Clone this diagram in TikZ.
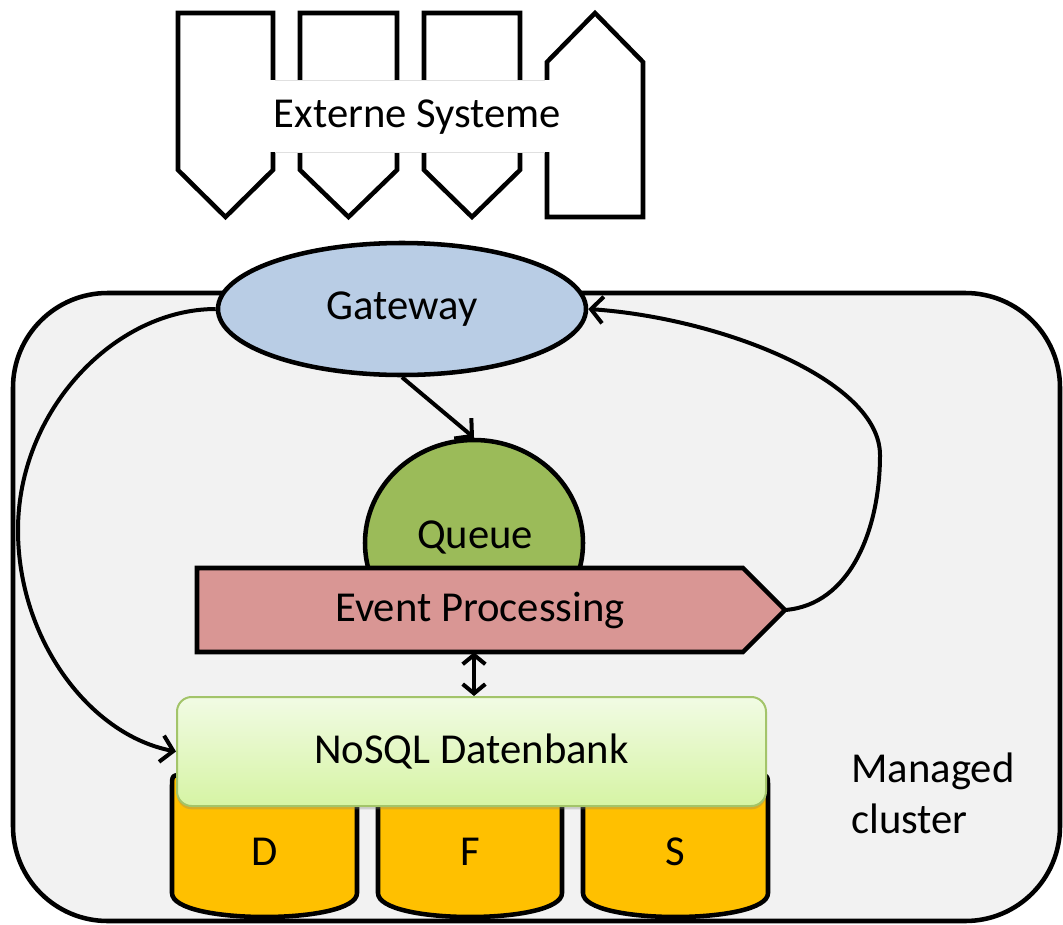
\documentclass[tikz,border=0pt]{standalone}
\usepackage{fontspec}
\setmainfont{Carlito}
\usetikzlibrary{arrows.meta,shadows,shapes.geometric}

\definecolor{clusterbg}{HTML}{F2F2F2}
\definecolor{gwfill}{HTML}{B9CDE5}
\definecolor{queuefill}{HTML}{9BBB59}
\definecolor{epfill}{HTML}{D99694}
\definecolor{cylfill}{HTML}{FFC000}
\definecolor{dbtop}{HTML}{F1FBE4}
\definecolor{dbbot}{HTML}{D6F4A4}
\definecolor{dbborder}{HTML}{A3C46A}

\tikzset{
  outline/.style={draw=black, line width=3.4pt},
  conn/.style={line width=3pt, -{Straight Barb[length=9pt,width=20pt]}},
  biconn/.style={line width=3pt, {Straight Barb[length=7pt,width=17pt]}-{Straight Barb[length=7pt,width=17pt]}},
  txt/.style={font=\fontsize{32}{38}\selectfont, inner sep=0pt},
}

\begin{document}
\begin{tikzpicture}[x=0.75pt, y=-0.75pt]
\useasboundingbox (0,0) rectangle (1063,924);

% managed cluster frame
\draw[outline, fill=clusterbg, rounded corners=71pt] (13,293) rectangle (1060,921);
\node[txt, align=left, anchor=west] (mc) at (851,793) {Managed\\cluster};

% external systems
\draw[outline] (178,13) -- (273,13) -- (273,170) -- (225.5,217) -- (178,170) -- cycle;
\draw[outline] (300,13) -- (397,13) -- (397,170) -- (348.5,217) -- (300,170) -- cycle;
\draw[outline] (424,13) -- (520,13) -- (520,170) -- (472,217) -- (424,170) -- cycle;
\draw[outline] (547,217) -- (547,62) -- (595,13) -- (643,62) -- (643,217) -- cycle;
\fill[white] (270,80) rectangle (550,152);
\draw[black!12, line width=0.6pt] (275,80) -- (545,80) (275,152) -- (545,152);
\node[txt] (ext) at (417.5,117) {Externe Systeme};

% storage cylinders
\foreach \a/\b in {172/357, 378/562, 583/768} {
  \draw[outline, fill=cylfill] (\a,893) -- (\a,787) .. controls (\a,775) .. (\a+12,775)
    -- (\b-12,775) .. controls (\b,775) .. (\b,787) -- (\b,893)
    .. controls (\b,925) and (\a,925) .. (\a,893) -- cycle;
}
\node[txt] (cd) at (264.5,852) {D};
\node[txt] (cf) at (470,852) {F};
\node[txt] (cs) at (675.5,852) {S};

% database
\node[txt, rectangle, rounded corners=11pt, draw=dbborder, line width=1.5pt,
      top color=dbtop, bottom color=dbbot,
      minimum width=441.75pt, minimum height=81.75pt,
      drop shadow={opacity=0.3, shadow xshift=0pt, shadow yshift=-2.5pt}]
  (db) at (471.5,751.5) {NoSQL Datenbank};

% queue and event processing
\node[txt, ellipse, outline, fill=queuefill, minimum width=163.5pt, minimum height=154.5pt]
  (queue) at (474,543) {};
\node[txt] (qt) at (475,537) {Queue};
\draw[outline, fill=epfill] (197,568) -- (743,568) -- (785,610) -- (743,652) -- (197,652) -- cycle;
\node[minimum width=409.5pt, minimum height=63pt, inner sep=0pt] (ep) at (470,610) {};
\node[txt] (ept) at (480,610) {Event Processing};
\coordinate (eptip) at (785,610);

% gateway
\node[txt, ellipse, outline, fill=gwfill, minimum width=276pt, minimum height=99pt]
  (gw) at (402,309) {Gateway};

% connectors
\draw[conn] (gw.south) -- (queue.north);
\draw[biconn] (ep.south -| queue.center) -- (db.north -| queue.center);
\draw[conn] (gw.west) .. controls (115,309) and (18,410) .. (18,530)
  .. controls (18,640) and (90,735) .. (db.west);
\draw[conn] (eptip) .. controls (850,605) and (880,530) .. (880,455)
  .. controls (880,380) and (720,318) .. (gw.east);
\end{tikzpicture}
\end{document}
